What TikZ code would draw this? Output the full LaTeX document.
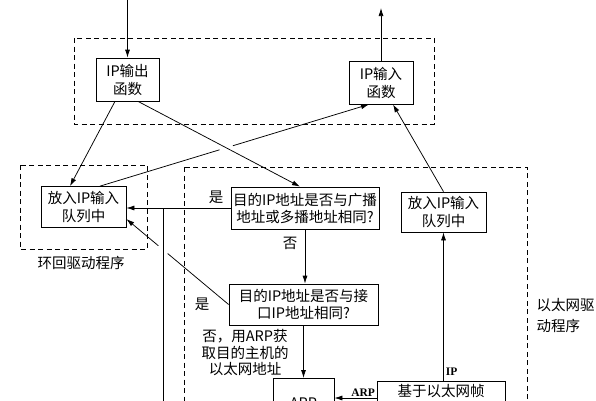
\documentclass[tikz,border=0pt]{standalone}
\usepackage{fontspec}
\setmainfont{Noto Sans CJK SC}
\newfontfamily\tagfont{Liberation Serif}
\usetikzlibrary{arrows.meta,calc,positioning}

\begin{document}
\begin{tikzpicture}[x=1pt,y=-1pt,
        font=\fontsize{14.5}{18}\selectfont,
        line width=0.75pt,
        >={Latex[length=8pt,width=5pt]},
        box/.style={draw, align=center, inner sep=0pt},
        driver/.style={draw, dash pattern=on 5pt off 3.5pt},
        tag/.style={font=\tagfont\bfseries\fontsize{11.5}{13}\selectfont, inner sep=1pt}]
        \clip (0,0) rectangle (596,400);
        % dashed driver boxes
        \draw[driver] (74,38) rectangle (434,124);
        \draw[driver] (20,165) rectangle (147,249);
        \draw[driver] (184,167) rectangle (527,460);
        \node (loopname) at (81,263) {环回驱动程序};
        \node[anchor=west, align=left, font=\fontsize{14.5}{21}\selectfont] (ethname) at (533,315.5) {以太网驱\\动程序};

        \node[box, minimum width=63, minimum height=43] (ipout) at (127.5,79.5) {IP输出\\函数};
        \node[box, minimum width=64, minimum height=43] (ipin) at (381,82.5) {IP输入\\函数};
        \node[box, minimum width=85, minimum height=41] (loopq) at (83.5,207) {放入IP输入\\队列中};
        \node[box, minimum width=85, minimum height=40] (ethq) at (443.5,212) {放入IP输入\\队列中};
        \node[box, minimum width=148, minimum height=42, font=\fontsize{14.5}{17}\selectfont] (bcast) at (305,208) {目的IP地址是否与广播\\地址或多播地址相同?};
        \node[box, minimum width=149, minimum height=41, font=\fontsize{14.5}{17}\selectfont] (ifaddr) at (303.5,304.5) {目的IP地址是否与接\\口IP地址相同?};
        \node[box, anchor=north, minimum width=61, inner ysep=19pt, text depth=20pt] (arp) at (303.5,378) {ARP};
        \node[box, anchor=north, minimum width=128, inner ysep=3pt, text depth=30pt] (demux) at (441,381) {基于以太网帧};

        \coordinate (feed) at (127.5,0);
        \coordinate (sink) at (381,8);
        \coordinate (outL) at ([xshift=-12.5pt]ipout.south);
        \coordinate (outR) at ([xshift=10.5pt]ipout.south);
        \coordinate (inL) at ([xshift=-12pt]ipin.south);
        \coordinate (inR) at ([xshift=12pt]ipin.south);
        \coordinate (loopN) at ([xshift=16.5pt]loopq.north);
        \coordinate (loopSE) at ([yshift=-12pt]loopq.east);
        \coordinate (bcastN) at ([xshift=-5pt]bcast.north);
        \coordinate (tap) at (bcast.west -| 163,0);
        \coordinate (drop) at (163,420);

        \draw[->] (feed) -- (ipout);
        \draw[->] (ipin) -- (sink);
        \draw[->] (outL) -- ([xshift=-13.5pt]loopq.north);
        \draw[->] (loopN) -- (inL);
        \fill[white] (intersection of outR--bcastN and loopN--inL) circle (7pt);
        \draw[->] (outR) -- (bcastN);
        \draw[->] (ethq.north) -- (inR);

        \draw[->] (ifaddr.west) -- (loopSE);
        \fill[white] (intersection of ifaddr.west--loopSE and tap--drop) circle (6pt);
        \draw (tap) -- (drop);
        \draw[->] (bcast.west) -- (bcast.west -| loopq.east);
        \node (yes1) at (216,197) {是};
        \node (yes2) at (202,304) {是};

        \draw[->] (bcast.south) -- (bcast.south |- ifaddr.north);
        \node (no1) at (290,243) {否};
        \draw[->] (ifaddr.south) -- (arp.north);
        \node[align=center, font=\fontsize{14.5}{16.5}\selectfont] (no2) at (245,353) {否，用ARP获\\取目的主机的\\以太网地址};

        \draw[->] (ethq.south |- demux.north) -- node[tag, pos=0.06, right=1pt] {IP} (ethq.south);
        \draw[->] ([yshift=-17pt]demux.north west) -- node[tag, pos=0.32, above=0pt] {ARP} ([yshift=-20pt]arp.north east);
    \end{tikzpicture}
\end{document}
